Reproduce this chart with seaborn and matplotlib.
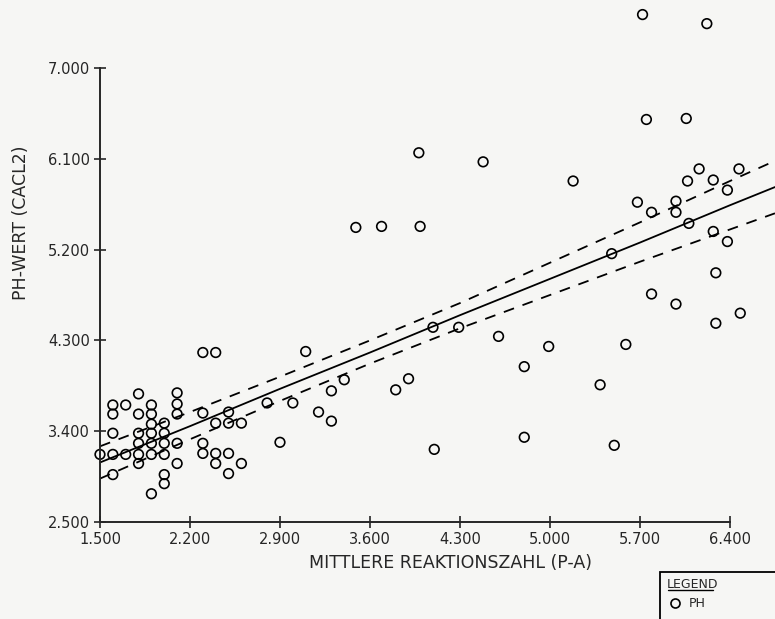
import numpy as np
import pandas as pd
import seaborn as sns
import matplotlib.pyplot as plt
from matplotlib.lines import Line2D
from matplotlib.patches import Rectangle

# mittlere Reaktionszahl (x) and pH-Wert (y)
reaktion = [
    1.80, 2.10, 2.10, 2.10, 1.60, 1.60, 1.70, 1.90, 1.90, 1.80,
    1.90, 2.00, 1.60, 1.80, 1.90, 2.00, 1.80, 1.90, 2.00, 2.10,
    1.50, 1.60, 1.70, 1.80, 1.90, 2.00, 1.80, 2.10, 1.60, 2.00,
    2.00, 1.90,
    2.30, 2.40, 2.30, 2.50, 2.40, 2.50, 2.60, 2.80, 2.30, 2.30,
    2.40, 2.50, 2.40, 2.60, 2.50, 2.90,
    3.00, 3.10, 3.20, 3.30, 3.30, 3.40, 3.80, 3.90, 4.10, 4.09,
    4.29, 4.60, 4.80, 4.80, 4.48, 3.98, 3.49, 3.69, 3.99, 4.99,
    5.72, 6.22, 5.75, 6.06, 5.18, 6.16, 6.47, 6.07, 6.27, 6.38,
    5.68, 5.98, 5.98, 5.79, 6.08, 6.27, 6.38, 5.48, 6.29, 5.79,
    5.98, 6.48, 6.29, 5.59, 5.39, 5.50,
]
ph = [
    3.77, 3.78, 3.67, 3.57, 3.66, 3.57, 3.66, 3.66, 3.57, 3.57,
    3.47, 3.48, 3.38, 3.38, 3.38, 3.38, 3.28, 3.28, 3.28, 3.28,
    3.17, 3.17, 3.17, 3.17, 3.17, 3.17, 3.08, 3.08, 2.97, 2.97,
    2.88, 2.78,
    4.18, 4.18, 3.58, 3.59, 3.48, 3.48, 3.48, 3.68, 3.28, 3.18,
    3.18, 3.18, 3.08, 3.08, 2.98, 3.29,
    3.68, 4.19, 3.59, 3.50, 3.80, 3.91, 3.81, 3.92, 3.22, 4.43,
    4.43, 4.34, 4.04, 3.34, 6.07, 6.16, 5.42, 5.43, 5.43, 4.24,
    7.53, 7.44, 6.49, 6.50, 5.88, 6.00, 6.00, 5.88, 5.89, 5.79,
    5.67, 5.68, 5.57, 5.57, 5.46, 5.38, 5.28, 5.16, 4.97, 4.76,
    4.66, 4.57, 4.47, 4.26, 3.86, 3.26,
]

# regression line and its confidence band
band_x = [1.5, 2.2, 2.9, 3.6, 4.3, 5.0, 5.7, 6.4, 6.75]
fit_y = [3.09, 3.45, 3.82, 4.18, 4.55, 4.91, 5.27, 5.64, 5.82]
upper_y = [3.25, 3.59, 3.94, 4.30, 4.67, 5.07, 5.47, 5.88, 6.08]
lower_y = [2.93, 3.32, 3.70, 4.07, 4.42, 4.75, 5.08, 5.40, 5.56]

x_ticks = [1.5, 2.2, 2.9, 3.6, 4.3, 5.0, 5.7, 6.4]
y_ticks = [2.5, 3.4, 4.3, 5.2, 6.1, 7.0]


def main():
    sns.set_style("ticks")
    plt.rcParams['font.family'] = ['DejaVu Sans']
    paper = '#f6f6f4'

    df = pd.DataFrame({'reaktion': reaktion, 'ph': ph})
    band = pd.DataFrame({'x': band_x, 'fit': fit_y, 'up': upper_y, 'lo': lower_y})

    fig = plt.figure(figsize=(7.75, 6.19), dpi=100, facecolor=paper)
    ax = fig.add_axes([0.129, 0.1567, 0.8129, 0.7334])
    ax.set_facecolor(paper)

    sns.scatterplot(data=df, x='reaktion', y='ph', marker='o', s=48,
                    facecolors='none', edgecolor='black', linewidth=1.2, ax=ax)
    ax.collections[0].set_clip_on(False)

    sns.lineplot(data=band, x='x', y='fit', color='black', linewidth=1.3, ax=ax)
    for col in ['up', 'lo']:
        sns.lineplot(data=band, x='x', y=col, color='black', linewidth=1.3,
                     dashes=False, ax=ax)
    for i, line in enumerate(ax.lines):
        line.set_clip_on(False)
        if i > 0:
            line.set_dashes((6, 5))

    ax.set_xlim(1.5, 6.4)
    ax.set_ylim(2.5, 7.0)
    ax.set_xticks(x_ticks)
    ax.set_yticks(y_ticks)
    ax.set_xticklabels([f"{t:.3f}" for t in x_ticks])
    ax.set_yticklabels([f"{t:.3f}" for t in y_ticks])
    ax.tick_params(direction='inout', length=8, width=1.2, labelsize=10.5, pad=3)
    for side in ['top', 'right']:
        ax.spines[side].set_visible(False)
    for side in ['left', 'bottom']:
        ax.spines[side].set_linewidth(1.4)

    ax.set_xlabel("MITTLERE REAKTIONSZAHL (P-A)", fontsize=12.5)
    ax.set_ylabel("PH-WERT (CACL2)", fontsize=12.5)
    ax.xaxis.set_label_coords(0.557, -0.07)
    ax.yaxis.set_label_coords(-0.111, 0.659)

    # legend box runs off the right and bottom edge, as in the scan
    fig.add_artist(Rectangle((660 / 775, -0.05), 0.2, (619 - 572) / 619 + 0.05,
                             transform=fig.transFigure, facecolor=paper,
                             edgecolor='black', linewidth=1.3))
    handle = Line2D([], [], marker='o', linestyle='none', markerfacecolor='none',
                    markeredgecolor='black', markersize=6.5, markeredgewidth=1.2)
    fig.legend([handle], ['PH'], title='LEGEND', loc='upper left',
               bbox_to_anchor=(662 / 775, (619 - 573) / 619), frameon=False,
               fontsize=9, title_fontsize=9, alignment='left', borderaxespad=0,
               borderpad=0.4, handletextpad=0.5, handlelength=1.2)
    # underline under the legend title
    fig.add_artist(Line2D([668 / 775, 713 / 775], [(619 - 590) / 619] * 2,
                          color='black', linewidth=1))

    plt.savefig("out.png", dpi=100, facecolor=paper)


if __name__ == "__main__":
    main()
